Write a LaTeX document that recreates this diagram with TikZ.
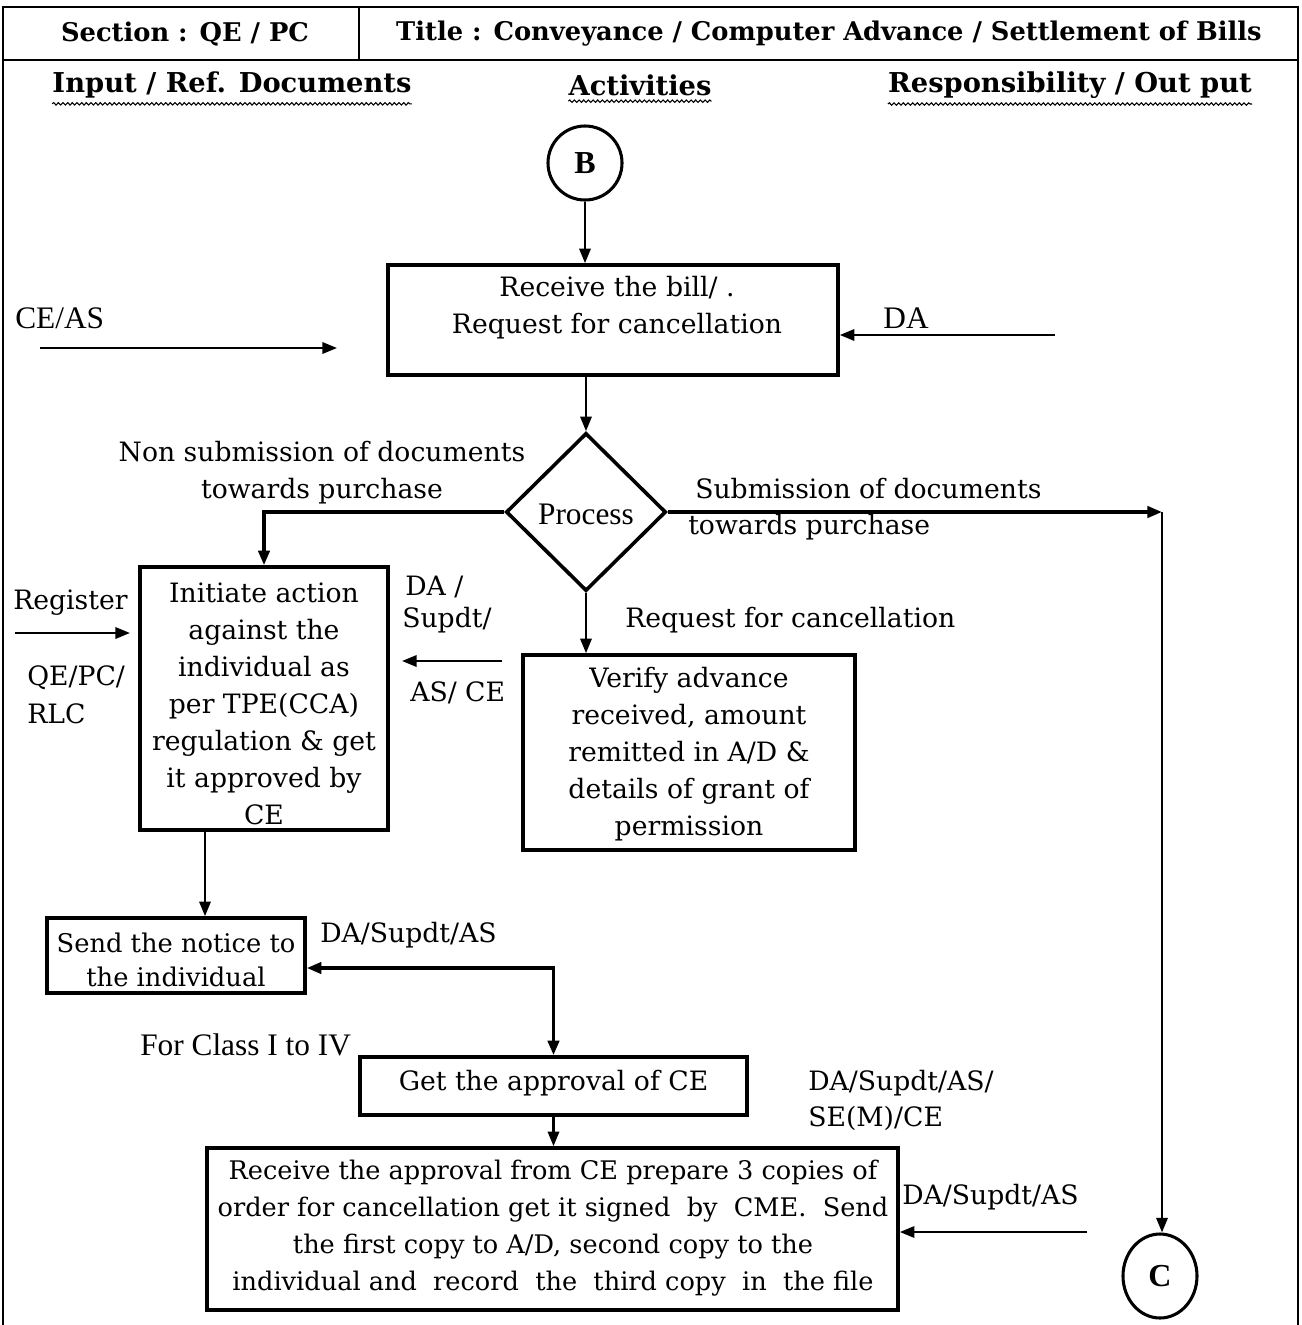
\documentclass[tikz,border=0pt]{standalone}
\usepackage{fontspec}
\setmainfont{DejaVu Serif}
\newfontfamily\tms{Liberation Serif}
\usetikzlibrary{arrows.meta,shapes.geometric,decorations.pathmorphing}

\begin{document}
\begin{tikzpicture}[x=0.75pt,y=-0.75pt,
  stepbox/.style={draw,rectangle,line width=2.7pt,inner sep=0pt},
  conn/.style={draw,ellipse,line width=2.3pt,inner sep=0pt},
  txt/.style={font=\fontsize{20}{27.8}\selectfont,align=center,inner sep=0pt},
  ttxt/.style={font=\tms\fontsize{23.5}{27}\selectfont,inner sep=0pt},
  hdr/.style={font=\bfseries\fontsize{19.3}{23}\selectfont,inner sep=0pt},
  tip/.tip={Triangle[length=11pt,width=8.5pt]},
  arr/.style={-tip,line width=1.8pt},
  thickarr/.style={arr,line width=2.6pt},
  wavy/.style={line width=0.8pt,decorate,decoration={snake,amplitude=0.9pt,segment length=3.5pt}}]

\useasboundingbox (0,0) rectangle (1302,1325);

% frame and header rows
\draw[line width=1.7pt] (3,1325) -- (3,7) -- (1298,7) -- (1298,1325);
\draw[line width=1.7pt] (3,60) -- (1298,60);
\draw[line width=1.7pt] (359,7) -- (359,60);
\node[hdr] (sec) at (185,34) {Section : QE / PC};
\node[hdr] (ttl) at (829,34) {Title : Conveyance / Computer Advance / Settlement of Bills};

\node[hdr,font=\bfseries\fontsize{20.5}{24}\selectfont] (h1) at (232,85) {Input / Ref. Documents};
\node[hdr,font=\bfseries\fontsize{20.5}{24}\selectfont] (h2) at (640,85) {Activities};
\node[hdr,font=\bfseries\fontsize{20.5}{24}\selectfont] (h3) at (1070,85) {Responsibility / Out put};
\foreach \h in {h1,h2,h3}
  \draw[wavy] ([yshift=-4pt]\h.south west) -- ([yshift=-4pt]\h.south east);

% connector B and first activity
\node[conn,minimum width=55.5pt,minimum height=55.5pt,font=\tms\bfseries\fontsize{24}{28}\selectfont] (B) at (585,163) {B};
\node[stepbox,minimum width=337.5pt,minimum height=82.5pt] (recv) at (613,320) {};
\node[txt] (recvt) at (617,308) {Receive the bill/ .\\ Request for cancellation};
\draw[arr] (B) -- (B |- recv.north);

\node[ttxt,anchor=west] (ceas) at (15,318) {CE/AS};
\coordinate (ceasA) at (40,348);
\coordinate (ceasB) at (337,348);
\draw[arr] (ceasA) -- (ceasB);

\node[ttxt] (da1) at (906,318) {DA};
\coordinate (da1A) at (1055,335);
\draw[arr] (da1A) -- (recv.east |- da1A);

% decision
\node[draw,diamond,line width=2.7pt,inner sep=0pt,minimum width=120pt,minimum height=118.5pt] (proc) at (586,512) {};
\node[ttxt] (proct) at (586,514) {Process};
\draw[arr] (proc.north |- recv.south) -- (proc.north);

\node[txt] (nonsub) at (322,473) {Non submission of documents\\ towards purchase};
\node[txt,anchor=west] (sub1) at (695,489) {Submission of documents};
\node[txt,anchor=west] (sub2) at (688,527) {towards purchase};
\node[txt,anchor=west] (reqc) at (625,620) {Request for cancellation};

% initiate action
\node[stepbox,minimum width=186pt,minimum height=197.25pt] (init) at (264,698.5) {};
\node[txt] (initt) at (264,704) {Initiate action\\ against the\\ individual as\\ per TPE(CCA)\\ regulation \& get\\ it approved by\\ CE};
\draw[thickarr] (proc.west) -| (init.north);

\node[txt,anchor=west] (reg) at (13,603) {Register};
\coordinate (regA) at (15,633);
\coordinate (regB) at (130,633);
\draw[arr] (regA) -- (regB);
\node[txt,anchor=west] (qe) at (27,678) {QE/PC/};
\node[txt,anchor=west] (rlc) at (27,714) {RLC};

\node[txt,anchor=west] (da2) at (405,587) {DA /};
\node[txt,anchor=west] (sup2) at (402,620) {Supdt/};
\node[txt,anchor=west] (asce) at (410,693) {AS/ CE};
\coordinate (da2A) at (502,661);
\coordinate (da2B) at (402,661);
\draw[arr] (da2A) -- (da2B);

% verify advance
\node[stepbox,minimum width=249pt,minimum height=146.25pt] (ver) at (689,752.5) {};
\node[txt] (vert) at (689,754) {Verify advance\\ received, amount\\ remitted in A/D \&\\ details of grant of\\ permission};
\draw[arr] (proc.south) -- (proc.south |- ver.north);

% submission branch to connector C
\node[conn,minimum width=55.5pt,minimum height=63pt,font=\tms\bfseries\fontsize{24}{28}\selectfont] (C) at (1160,1276) {C};
\coordinate (subE) at (proc.east -| 1162,0);
\draw[thickarr] (proc.east) -- (subE);
\draw[arr] (subE) -- (subE |- C.north);

% notice
\node[stepbox,minimum width=193.5pt,minimum height=56.25pt] (note) at (176,955.5) {};
\node[txt,font=\fontsize{19.3}{26}\selectfont] (notet) at (176,960) {Send the notice to\\ the individual};
\draw[arr] (init.south -| 205,0) -- (note.north -| 205,0);
\node[txt,anchor=west] (da3) at (320,935) {DA/Supdt/AS};

% approval
\node[stepbox,minimum width=290.25pt,minimum height=43.5pt] (appr) at (553.5,1086) {};
\node[txt] (apprt) at (553.5,1083) {Get the approval of CE};
\node[ttxt,anchor=west] (cls) at (140,1045) {For Class I to IV};
\draw[tip-tip,line width=2.6pt] (note.east |- 0,968) -| (appr.north);
\node[txt,anchor=west] (da4) at (808,1083) {DA/Supdt/AS/};
\node[txt,anchor=west] (sem) at (808,1118) {SE(M)/CE};

% final order
\node[stepbox,minimum width=518.25pt,minimum height=121.5pt] (ord) at (552.5,1229) {};
\node[txt,font=\fontsize{19.2}{27.8}\selectfont] (ordt) at (553,1228) {Receive the approval from CE prepare 3 copies of\\ order for cancellation get it signed~ by~ CME.~ Send\\ the first copy to A/D, second copy to the\\ individual and~ record~ the~ third copy~ in~ the file};
\draw[arr] (appr.south) -- (appr.south |- ord.north);
\node[txt,anchor=west] (da5) at (902,1197) {DA/Supdt/AS};
\coordinate (da5A) at (1087,1232);
\draw[arr] (da5A) -- (ord.east |- da5A);

\end{tikzpicture}
\end{document}
